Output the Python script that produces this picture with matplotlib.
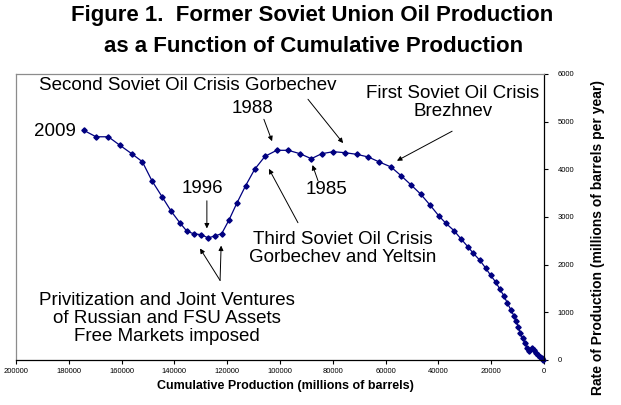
import matplotlib
matplotlib.use("Agg")
import matplotlib.pyplot as plt

plt.rcParams['font.family'] = ['Liberation Sans', 'DejaVu Sans']

# Cumulative production (millions of barrels) and rate (millions of barrels per year)
cumulative = [265, 871, 1515, 2159, 3030, 3788, 4659, 5568, 6326, 7197, 8068, 9091,
              9735, 10606, 11364, 12614, 13902, 15152, 16667, 18295, 20189, 22083,
              24242, 26780, 28902, 31439, 34091, 37121, 39886, 43182, 46705, 50379,
              54167, 57955, 62386, 66553, 70947, 75379, 79811, 84205, 88144, 92424,
              96856, 101250, 105682, 109583, 112992, 116402, 119318, 122083, 124621,
              127273, 129811, 132462, 135227, 137879, 141174, 144583, 148485, 152159,
              156174, 160606, 165038, 169697, 174242]
rate = [0, 35, 69, 104, 140, 209, 244, 194, 244, 349, 453, 570, 695, 814, 925, 1058,
        1196, 1342, 1482, 1635, 1775, 1927, 2088, 2240, 2380, 2541, 2714, 2866, 3027,
        3251, 3480, 3674, 3868, 4050, 4154, 4259, 4315, 4349, 4370, 4328, 4223, 4328,
        4399, 4399, 4273, 4002, 3660, 3284, 2937, 2651, 2603, 2562, 2630, 2645, 2699,
        2875, 3117, 3418, 3758, 4161, 4328, 4503, 4683, 4683, 4816]

x_ticks = [0, 20000, 40000, 60000, 80000, 100000, 120000, 140000, 160000, 180000, 200000]
x_tick_labels = ['0', '20000', '40000', '60000', '80000', '100000', '120000', '140000',
                 '160000', '180000', '200000']
y_ticks = [0, 1000, 2000, 3000, 4000, 5000, 6000]
y_tick_labels = ['0', '1000', '2000', '3000', '4000', '5000', '6000']

W, H = 621, 405
fig = plt.figure(figsize=(W / 100, H / 100), dpi=100)
fig.patch.set_facecolor('white')
ax = fig.add_axes([16 / W, 1 - 360 / H, (544 - 16) / W, (360 - 74) / H])

navy = '#000080'
ax.plot(cumulative, rate, color=navy, lw=0.9, marker='D', markersize=2.7,
        markerfacecolor=navy, markeredgecolor=navy, clip_on=False)

ax.set_xlim(200000, 0)
ax.set_ylim(0, 6000)
ax.set_xticks(x_ticks)
ax.set_xticklabels(x_tick_labels)
ax.set_yticks(y_ticks)
ax.set_yticklabels(y_tick_labels)
ax.yaxis.tick_right()
ax.tick_params(axis='x', direction='out', length=3, width=0.8, labelsize=5.5, pad=3)
ax.tick_params(axis='y', direction='out', length=3, width=0.8, labelsize=5.5, pad=7)
for lab in ax.get_yticklabels():
    lab.set_horizontalalignment('left')

for side in ['top', 'left']:
    ax.spines[side].set_color('#8c8c8c')
    ax.spines[side].set_linewidth(0.9)
for side in ['bottom', 'right']:
    ax.spines[side].set_color('black')
    ax.spines[side].set_linewidth(0.9)

# Title
fig.text(312 / W, 1 - 16 / H, 'Figure 1.  Former Soviet Union Oil Production',
         ha='center', va='center', fontsize=16, fontweight='bold')
fig.text(314 / W, 1 - 46 / H, 'as a Function of Cumulative Production',
         ha='center', va='center', fontsize=16, fontweight='bold')

# Axis titles
fig.text(285 / W, 1 - 386 / H, 'Cumulative Production (millions of barrels)',
         ha='center', va='center', fontsize=9, fontweight='bold')
fig.text(598 / W, 1 - 80 / H, 'Rate of Production (millions of barrels per year)',
         ha='center', va='top', rotation=90, fontsize=10, fontweight='bold')

fs = 13.5
arrow_kw = dict(arrowstyle='-|>', color='black', lw=0.7, mutation_scale=7,
                shrinkA=0, shrinkB=0)

def label(text, x, y):
    ax.text(x, y, text, ha='center', va='center', fontsize=fs, linespacing=1.1)

def arrow(x0, y0, x1, y1):
    ax.annotate('', xy=(x1, y1), xytext=(x0, y0), arrowprops=arrow_kw,
                annotation_clip=False)

label('2009', 185200, 4800)
label('Second Soviet Oil Crisis Gorbechev', 134800, 5760)
arrow(89400, 5470, 76100, 4550)
label('1988', 110600, 5280)
arrow(106100, 5050, 103000, 4590)
label('First Soviet Oil Crisis\nBrezhnev', 34500, 5400)
arrow(34800, 4800, 55700, 4180)
label('1985', 82200, 3570)
arrow(85600, 3760, 87700, 4090)
label('Third Soviet Oil Crisis\nGorbechev and Yeltsin', 76100, 2340)
arrow(93200, 2880, 104200, 4010)
label('1996', 129500, 3590)
arrow(127700, 3340, 127700, 2760)
label('Privitization and Joint Ventures\nof Russian and FSU Assets\nFree Markets imposed',
      142800, 870)
arrow(122700, 1670, 130300, 2340)
arrow(122700, 1670, 122300, 2400)

fig.savefig('out.png', dpi=100)
